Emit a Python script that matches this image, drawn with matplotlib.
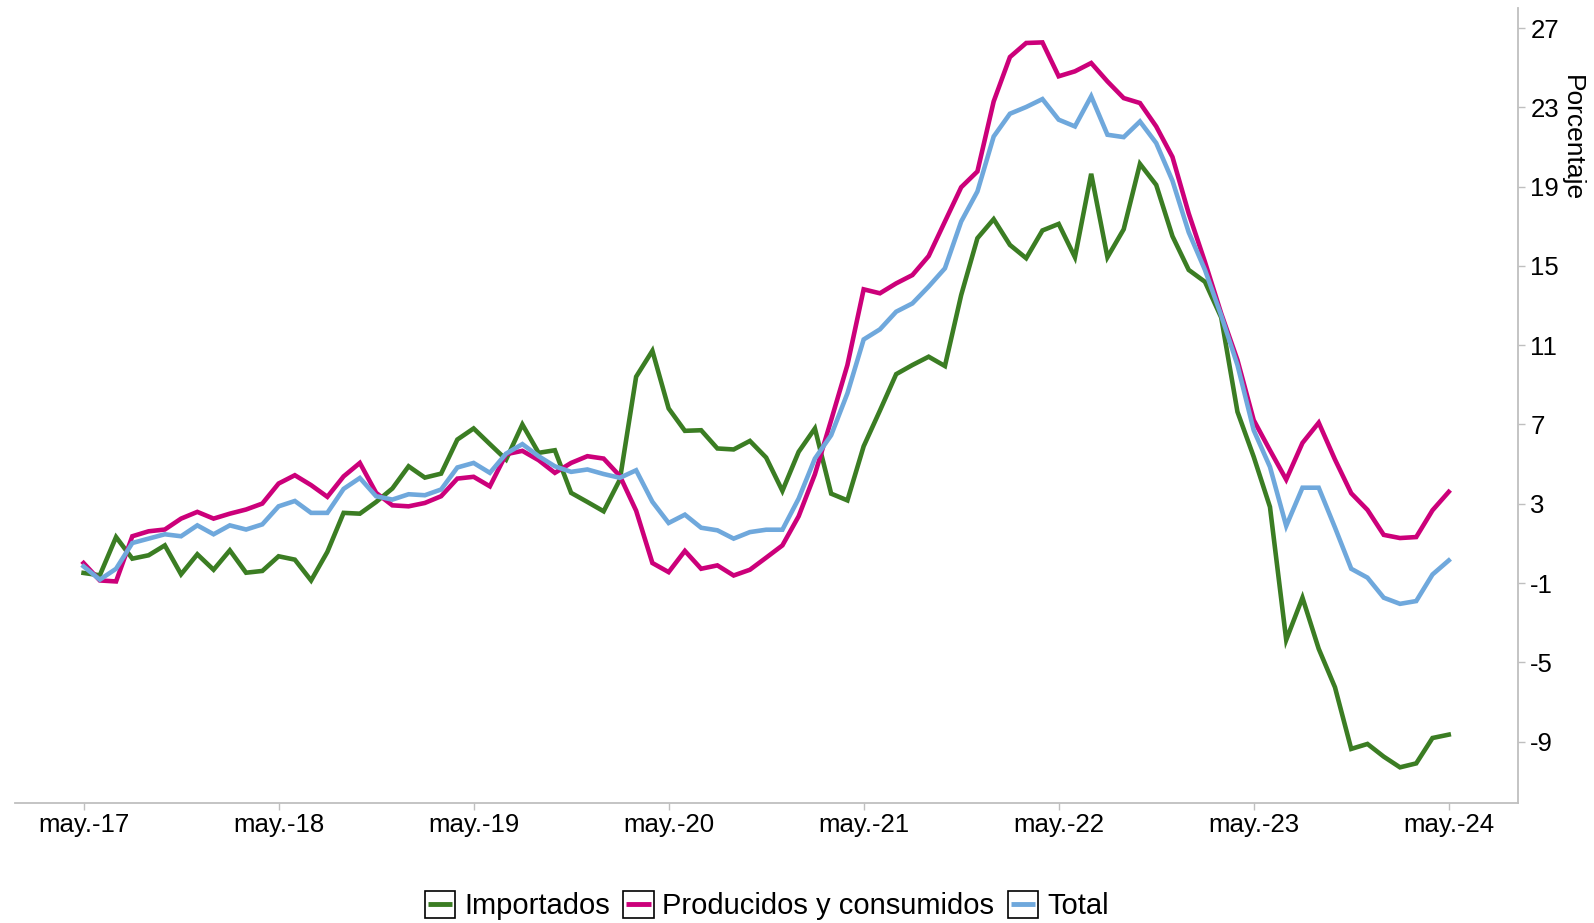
import numpy as np
import matplotlib
matplotlib.use("Agg")
import matplotlib.pyplot as plt
from matplotlib.patches import Rectangle
from matplotlib.lines import Line2D
from matplotlib.legend_handler import HandlerBase

plt.rcParams['font.family'] = ['Liberation Sans', 'DejaVu Sans']

# monthly series, may-2017 .. may-2024
importados = [
    -0.49, -0.61, 1.32, 0.23, 0.40, 0.90, -0.56, 0.45, -0.33, 0.65, -0.48, -0.39,
    0.35, 0.18, -0.87, 0.57, 2.54, 2.50, 3.09, 3.77, 4.89, 4.32, 4.52, 6.24,
    6.80, 6.01, 5.23, 7.00, 5.57, 5.70, 3.55, 3.09, 2.62, 4.22, 9.41, 10.72,
    7.81, 6.68, 6.71, 5.79, 5.74, 6.17, 5.33, 3.65, 5.62, 6.80, 3.51, 3.17,
    5.90, 7.70, 9.54, 10.00, 10.42, 9.95, 13.53, 16.40, 17.36, 16.06, 15.39, 16.79,
    17.12, 15.44, 19.65, 15.44, 16.85, 20.15, 19.09, 16.50, 14.80, 14.20, 12.40, 7.64,
    5.37, 2.84, -3.87, -1.74, -4.32, -6.26, -9.37, -9.12, -9.76, -10.30, -10.10, -8.82,
    -8.65,
]
producidos = [
    0.01, -0.87, -0.92, 1.36, 1.61, 1.70, 2.25, 2.59, 2.25, 2.50, 2.71, 3.01,
    4.02, 4.44, 3.94, 3.35, 4.38, 5.06, 3.55, 2.92, 2.87, 3.04, 3.38, 4.27,
    4.36, 3.88, 5.50, 5.67, 5.20, 4.56, 5.06, 5.40, 5.28, 4.40, 2.65, 0.01,
    -0.45, 0.62, -0.28, -0.11, -0.62, -0.33, 0.28, 0.90, 2.37, 4.49, 7.22, 10.00,
    13.82, 13.62, 14.12, 14.54, 15.50, 17.24, 18.97, 19.77, 23.30, 25.54, 26.25, 26.28,
    24.57, 24.82, 25.24, 24.31, 23.47, 23.22, 22.04, 20.50, 17.65, 15.20, 12.60, 10.25,
    7.22, 5.70, 4.22, 6.07, 7.09, 5.23, 3.53, 2.69, 1.43, 1.27, 1.32, 2.67,
    3.60,
]
total = [
    -0.16, -0.83, -0.28, 1.02, 1.24, 1.46, 1.36, 1.91, 1.46, 1.91, 1.70, 1.96,
    2.87, 3.14, 2.54, 2.54, 3.75, 4.30, 3.38, 3.21, 3.48, 3.43, 3.72, 4.83,
    5.06, 4.56, 5.53, 6.01, 5.40, 4.89, 4.61, 4.73, 4.50, 4.31, 4.69, 3.10,
    2.03, 2.45, 1.79, 1.66, 1.24, 1.57, 1.69, 1.69, 3.26, 5.28, 6.46, 8.57,
    11.29, 11.80, 12.69, 13.11, 13.96, 14.88, 17.24, 18.76, 21.53, 22.68, 23.02, 23.42,
    22.38, 22.04, 23.56, 21.62, 21.50, 22.29, 21.20, 19.30, 16.70, 14.80, 12.50, 10.00,
    6.71, 4.86, 1.88, 3.81, 3.81, 1.80, -0.28, -0.73, -1.74, -2.05, -1.91, -0.57,
    0.14,
]
tick_labels = ["may.-17", "may.-18", "may.-19", "may.-20", "may.-21", "may.-22", "may.-23", "may.-24"]
y_ticks = [-9, -5, -1, 3, 7, 11, 15, 19, 23, 27]

colors = {"Importados": "#3B7D23", "Producidos y consumidos": "#CC007A", "Total": "#6FA8DC"}


class BoxedLine(HandlerBase):
    # legend key: black framed square with the series line through the middle
    def create_artists(self, legend, orig_handle, xdescent, ydescent,
                       width, height, fontsize, trans):
        x0, y0 = -xdescent, -ydescent
        box = Rectangle((x0, y0), width, height, facecolor='white',
                        edgecolor='black', lw=1.2, transform=trans)
        m = width * 0.1
        yc = y0 + height / 2
        ln = Line2D([x0 + m, x0 + width - m], [yc, yc], color=orig_handle.get_color(),
                    lw=3.5, solid_capstyle='butt', transform=trans)
        return [box, ln]


x = np.arange(len(total))

fig = plt.figure(figsize=(15.94, 9.23), dpi=100)
ax = fig.add_axes([0.0096, 0.130, 0.9426, 0.861])

series = [("Importados", importados), ("Producidos y consumidos", producidos), ("Total", total)]
lines = []
for name, vals in series:
    l, = ax.plot(x, vals, color=colors[name], lw=3.3, solid_joinstyle='miter', label=name)
    lines.append(l)

ax.set_xlim(-4.2, 88.25)
ax.set_ylim(-12.1, 28.0)

ax.set_xticks(x[::12])
ax.set_xticklabels(tick_labels, fontsize=18.5)
ax.yaxis.tick_right()
ax.yaxis.set_label_position("right")
ax.set_yticks(y_ticks)
ax.set_yticklabels([str(v) for v in y_ticks], fontsize=18.5)
ax.tick_params(axis='both', colors='#bfbfbf', labelcolor='black', length=5, width=1)
ax.tick_params(axis='x', pad=2)
ax.tick_params(axis='y', pad=4)

for s in ["top", "left"]:
    ax.spines[s].set_visible(False)
for s in ["bottom", "right"]:
    ax.spines[s].set_color('#bfbfbf')
    ax.spines[s].set_linewidth(1.3)

ax.set_ylabel("Porcentaje", rotation=270, fontsize=19, va='center')
ax.yaxis.set_label_coords(1.036, 0.837)

fig.legend(lines, [n for n, _ in series], loc='center', bbox_to_anchor=(0.481, 0.019),
           ncol=3, frameon=False, fontsize=21, handlelength=1.05, handleheight=1.05,
           handletextpad=0.3, columnspacing=0.45, borderpad=0, borderaxespad=0,
           handler_map={Line2D: BoxedLine()})

fig.savefig("out.png", dpi=100)
